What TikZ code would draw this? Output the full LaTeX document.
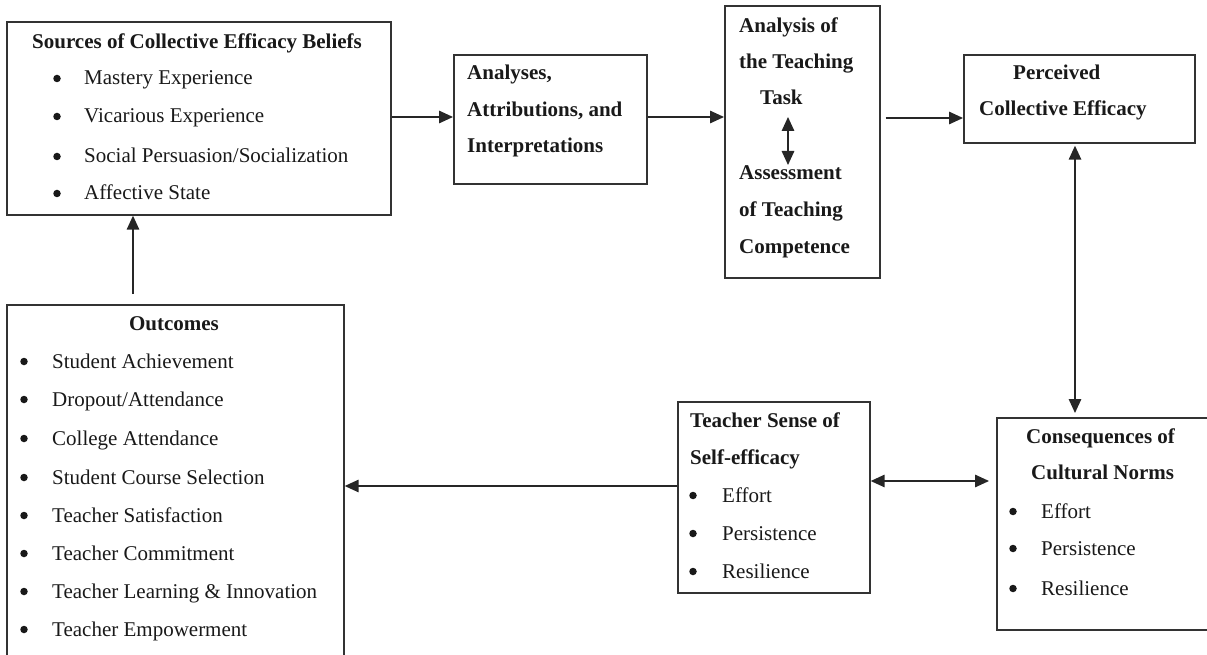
\documentclass[tikz,border=0pt]{standalone}
\usepackage{fontspec}
\setmainfont{Liberation Serif}
\usetikzlibrary{arrows.meta,calc}
\tikzset{
  box/.style={draw=black!80, line width=1.7pt, inner sep=0pt, anchor=north west, rectangle},
  txt/.style={inner sep=0pt, font=\fontsize{21}{24}\selectfont, text=black!90},
  btxt/.style={inner sep=0pt, font=\fontsize{21}{24}\selectfont\bfseries, text=black!90},
  bdot/.style={circle, fill=black!90, inner sep=0pt, minimum size=7.5pt},
  conn/.style={draw=black!85, line width=1.5pt, ->},
  dconn/.style={draw=black!85, line width=1.5pt, <->},
}
\newcommand\blitem[5]{%
  \node[bdot] (#1b) at (#2,#4-6.5) {};
  \node[txt,anchor=base west] (#1) at (#3,#4) {#5};}
\begin{document}
\begin{tikzpicture}[x=1pt,y=-1pt,>={Triangle[length=14pt,width=12.5pt]}]
\useasboundingbox (0,0) rectangle (1207,655);

% boxes
\node[box, minimum width=384pt, minimum height=193pt] (src) at (6,21) {};
\node[box, minimum width=193pt, minimum height=129pt] (ana) at (453,54) {};
\node[box, minimum width=155pt, minimum height=272pt] (task) at (724,5) {};
\node[box, minimum width=231pt, minimum height=88pt] (pce) at (963,54) {};
\node[box, minimum width=192pt, minimum height=191pt] (teach) at (677,401) {};
\node[box, minimum width=220pt, minimum height=212pt] (cons) at (996,417) {};
\node[box, minimum width=337pt, minimum height=362pt] (out) at (6,304) {};

% Sources
\node[btxt,anchor=base] (srcT) at (197,49) {Sources of Collective Efficacy Beliefs};
\blitem{s1}{57}{84}{85}{Mastery Experience}
\blitem{s2}{57}{84}{123}{Vicarious Experience}
\blitem{s3}{57}{84}{163}{Social Persuasion/Socialization}
\blitem{s4}{57}{84}{200}{Affective State}

% Analyses
\node[btxt,anchor=base west] (a1) at (467,80) {Analyses,};
\node[btxt,anchor=base west] (a2) at (467,117) {Attributions, and};
\node[btxt,anchor=base west] (a3) at (467,153) {Interpretations};

% Task
\node[btxt,anchor=base west] (t1) at (739,33) {Analysis of};
\node[btxt,anchor=base west] (t2) at (739,69) {the Teaching};
\node[btxt,anchor=base west] (t3) at (760,105) {Task};
\node[btxt,anchor=base west] (t4) at (739,180) {Assessment};
\node[btxt,anchor=base west] (t5) at (739,217) {of Teaching};
\node[btxt,anchor=base west] (t6) at (739,253) {Competence};

% Perceived
\node[btxt,anchor=base west] (p1) at (1013,80) {Perceived};
\node[btxt,anchor=base west] (p2) at (979,116) {Collective Efficacy};

% Teacher
\node[btxt,anchor=base west] (e1) at (690,427) {Teacher Sense of};
\node[btxt,anchor=base west] (e2) at (690,464) {Self-efficacy};
\blitem{e3}{693}{722}{502}{Effort}
\blitem{e4}{693}{722}{540}{Persistence}
\blitem{e5}{693}{722}{578}{Resilience}

% Consequences
\node[btxt,anchor=base west] (c1) at (1026,443) {Consequences of};
\node[btxt,anchor=base west] (c2) at (1031,479) {Cultural Norms};
\blitem{c3}{1013}{1041}{518}{Effort}
\blitem{c4}{1013}{1041}{555}{Persistence}
\blitem{c5}{1013}{1041}{595}{Resilience}

% Outcomes
\node[btxt,anchor=base] (oT) at (174,330) {Outcomes};
\blitem{o1}{24}{52}{368}{Student Achievement}
\blitem{o2}{24}{52}{406}{Dropout/Attendance}
\blitem{o3}{24}{52}{445}{College Attendance}
\blitem{o4}{24}{52}{484}{Student Course Selection}
\blitem{o5}{24}{52}{522}{Teacher Satisfaction}
\blitem{o6}{24}{52}{560}{Teacher Commitment}
\blitem{o7}{24}{52}{598}{Teacher Learning \& Innovation}
\blitem{o8}{24}{52}{636}{Teacher Empowerment}

% helper coordinates
\coordinate (yA) at (0,117);
\coordinate (yB) at (0,118);
\coordinate (vX) at (1075,0);
\coordinate (d1) at (788,117);
\coordinate (d2) at (788,165);
\coordinate (yC) at (0,481);
\coordinate (yD) at (0,486);
\coordinate (uX) at (133,0);

% connectors
\draw[conn] (src.east |- yA) -- (ana.west |- yA);
\draw[conn] (ana.east |- yA) -- (task.west |- yA);
\draw[conn, shorten <=5pt] (task.east |- yB) -- (pce.west |- yB);
\draw[dconn] (d1) -- (d2);
\draw[dconn, shorten <=2pt, shorten >=4pt] (pce.south -| vX) -- (cons.north -| vX);
\draw[dconn, shorten >=7pt] (teach.east |- yC) -- (cons.west |- yC);
\draw[conn] (teach.west |- yD) -- (out.east |- yD);
\draw[conn, shorten <=10pt] (out.north -| uX) -- (src.south -| uX);
\end{tikzpicture}
\end{document}
